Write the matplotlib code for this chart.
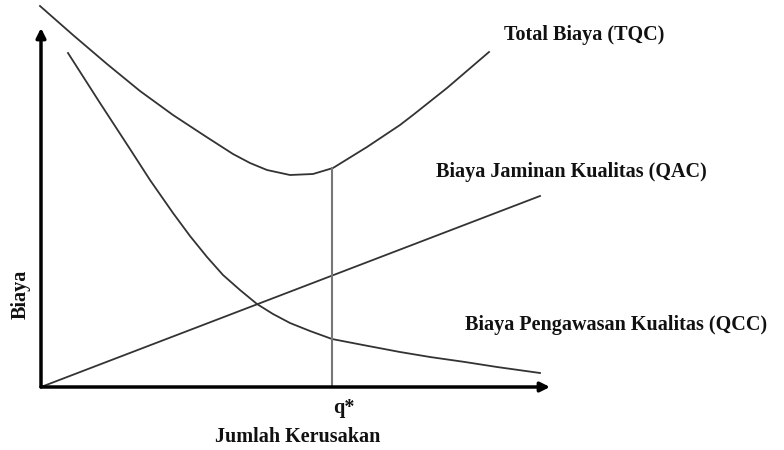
import matplotlib.pyplot as plt

# koordinat (satuan: x = jumlah kerusakan, y = biaya)
tqc_x = [-1, 32, 66, 99, 132, 164, 192, 209, 226, 249, 272, 292, 326, 359, 372, 406, 448]
tqc_y = [381, 352, 323, 296, 272, 251, 233, 224, 217, 212, 213, 219, 240, 262, 272, 299, 335]

qcc_x = [27, 59, 89, 109, 132, 149, 166, 182, 199, 216, 232, 249, 269, 291, 322, 359, 389, 424, 456, 499]
qcc_y = [334, 284, 238, 207, 174, 151, 130, 112, 97, 83, 73, 64, 56, 48, 42, 35, 30, 25, 20, 14]

qac_x = [0, 499]
qac_y = [0, 191]

q_star = 291
q_star_top = 219

x_max = 509
y_max = 359

plt.rcParams['font.family'] = ['Liberation Serif', 'DejaVu Serif']

fig = plt.figure(figsize=(7.84, 4.5), dpi=100)
ax = fig.add_axes([0, 0, 1, 1])
ax.set_xlim(-41, 743)
ax.set_ylim(-63, 387)
ax.axis('off')

# sumbu dengan panah
ax.annotate('', xy=(0, y_max), xytext=(0, 0),
            arrowprops=dict(arrowstyle='-|>', color='black', lw=2.5,
                            mutation_scale=14, shrinkA=0, shrinkB=0))
ax.annotate('', xy=(x_max, 0), xytext=(0, 0),
            arrowprops=dict(arrowstyle='-|>', color='black', lw=2.5,
                            mutation_scale=14, shrinkA=0, shrinkB=0))

ax.plot(tqc_x, tqc_y, color='#333333', lw=1.3, solid_joinstyle='round')
ax.plot(qcc_x, qcc_y, color='#333333', lw=1.3, solid_joinstyle='round')
ax.plot(qac_x, qac_y, color='#333333', lw=1.3)
ax.plot([q_star, q_star], [0, q_star_top], color='#777777', lw=1.5)

tkw = dict(fontsize=14.5, fontweight='bold', color='#111111', va='center')
ax.text(463, 352, 'Total Biaya (TQC)', ha='left', **tkw)
ax.text(395, 215, 'Biaya Jaminan Kualitas (QAC)', ha='left', **tkw)
ax.text(424, 62, 'Biaya Pengawasan Kualitas (QCC)', ha='left', **tkw)
ax.text(303, -21, 'q*', ha='center', **tkw)
ax.text(257, -50, 'Jumlah Kerusakan', ha='center', **tkw)
ax.text(-20, 93, 'Biaya', ha='center', rotation=90, **tkw)

fig.savefig('out.png', dpi=100)
